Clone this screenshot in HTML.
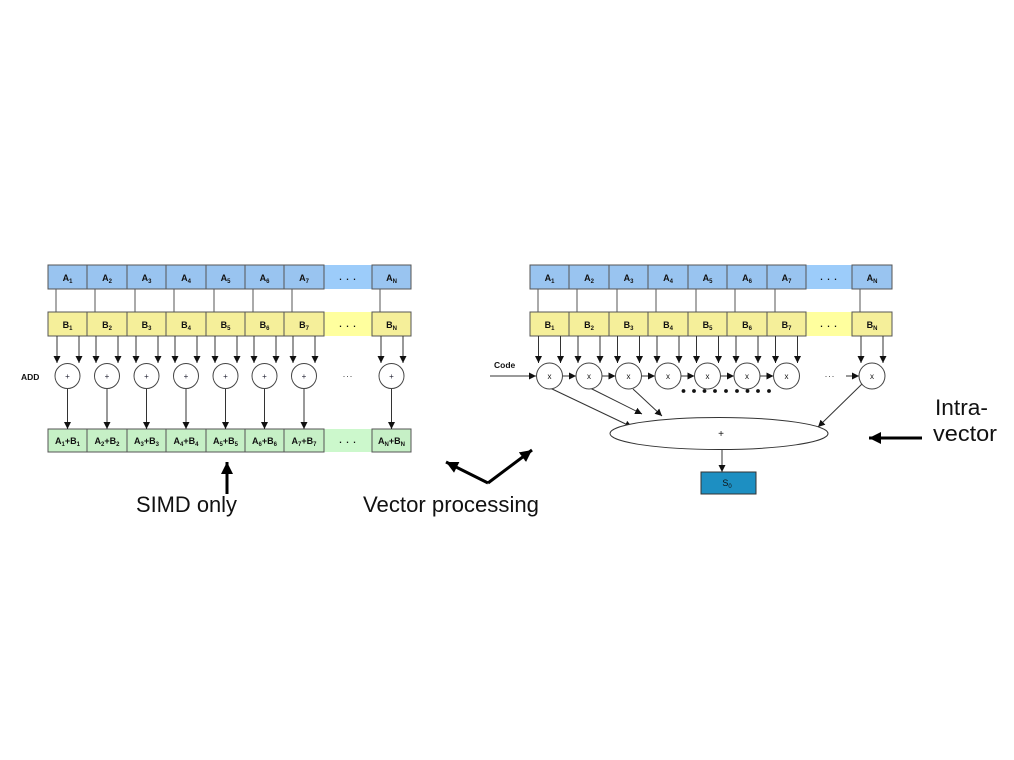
<!DOCTYPE html>
<html><head><meta charset="utf-8"><style>
html,body{margin:0;padding:0;background:#fff;}
svg{display:block;}
.c{font-family:"Liberation Sans",Arial,sans-serif;font-weight:bold;font-size:9px;fill:#111;}
.big{font-family:"Liberation Sans",Arial,sans-serif;font-size:22px;fill:#111;}
</style></head><body>
<svg width="1014" height="760" viewBox="0 0 1014 760" xmlns="http://www.w3.org/2000/svg">
<defs>
<marker id="a" markerUnits="userSpaceOnUse" markerWidth="8" markerHeight="8" refX="7" refY="3.5" orient="auto"><path d="M0,0 L7,3.5 L0,7 z" fill="#111"/></marker>
<marker id="b" markerUnits="userSpaceOnUse" markerWidth="14" markerHeight="14" refX="12" refY="6" orient="auto"><path d="M0,0 L12,6 L0,12 z" fill="#000"/></marker>
</defs>
<rect width="1014" height="760" fill="#fff"/>

<!-- ============ LEFT DIAGRAM ============ -->
<g stroke="#555" stroke-width="1">
<!-- A row -->
<rect x="324" y="265" width="48" height="24" fill="#9cccfa" stroke="none"/>
<rect x="48" y="265" width="39" height="24" fill="#99c4f0"/>
<rect x="87" y="265" width="40" height="24" fill="#99c4f0"/>
<rect x="127" y="265" width="39" height="24" fill="#99c4f0"/>
<rect x="166" y="265" width="40" height="24" fill="#99c4f0"/>
<rect x="206" y="265" width="39" height="24" fill="#99c4f0"/>
<rect x="245" y="265" width="39" height="24" fill="#99c4f0"/>
<rect x="284" y="265" width="40" height="24" fill="#99c4f0"/>
<rect x="372" y="265" width="39" height="24" fill="#99c4f0"/>
<!-- B row -->
<rect x="324" y="312" width="48" height="24" fill="#ffff9e" stroke="none"/>
<rect x="48" y="312" width="39" height="24" fill="#f5ef9a"/>
<rect x="87" y="312" width="40" height="24" fill="#f5ef9a"/>
<rect x="127" y="312" width="39" height="24" fill="#f5ef9a"/>
<rect x="166" y="312" width="40" height="24" fill="#f5ef9a"/>
<rect x="206" y="312" width="39" height="24" fill="#f5ef9a"/>
<rect x="245" y="312" width="39" height="24" fill="#f5ef9a"/>
<rect x="284" y="312" width="40" height="24" fill="#f5ef9a"/>
<rect x="372" y="312" width="39" height="24" fill="#f5ef9a"/>
<!-- green row -->
<rect x="324" y="429" width="48" height="23" fill="#ccf8cc" stroke="none"/>
<rect x="48" y="429" width="39" height="23" fill="#c6f0c6"/>
<rect x="87" y="429" width="40" height="23" fill="#c6f0c6"/>
<rect x="127" y="429" width="39" height="23" fill="#c6f0c6"/>
<rect x="166" y="429" width="40" height="23" fill="#c6f0c6"/>
<rect x="206" y="429" width="39" height="23" fill="#c6f0c6"/>
<rect x="245" y="429" width="39" height="23" fill="#c6f0c6"/>
<rect x="284" y="429" width="40" height="23" fill="#c6f0c6"/>
<rect x="372" y="429" width="39" height="23" fill="#c6f0c6"/>
<!-- A to B lines -->
<path d="M56,289V312 M95,289V312 M135,289V312 M174,289V312 M214,289V312 M253,289V312 M292,289V312 M380,289V312"/>
</g>
<!-- B to circle arrows -->
<g stroke="#333" stroke-width="1" marker-end="url(#a)">
<line x1="57" y1="336" x2="57" y2="363"/><line x1="79" y1="336" x2="79" y2="363"/>
<line x1="96" y1="336" x2="96" y2="363"/><line x1="118" y1="336" x2="118" y2="363"/>
<line x1="136" y1="336" x2="136" y2="363"/><line x1="158" y1="336" x2="158" y2="363"/>
<line x1="175" y1="336" x2="175" y2="363"/><line x1="197" y1="336" x2="197" y2="363"/>
<line x1="215" y1="336" x2="215" y2="363"/><line x1="237" y1="336" x2="237" y2="363"/>
<line x1="254" y1="336" x2="254" y2="363"/><line x1="276" y1="336" x2="276" y2="363"/>
<line x1="293" y1="336" x2="293" y2="363"/><line x1="315" y1="336" x2="315" y2="363"/>
<line x1="381" y1="336" x2="381" y2="363"/><line x1="403" y1="336" x2="403" y2="363"/>
<!-- circle to green -->
<line x1="67.5" y1="389" x2="67.5" y2="429"/>
<line x1="107" y1="389" x2="107" y2="429"/>
<line x1="146.5" y1="389" x2="146.5" y2="429"/>
<line x1="186" y1="389" x2="186" y2="429"/>
<line x1="225.5" y1="389" x2="225.5" y2="429"/>
<line x1="264.5" y1="389" x2="264.5" y2="429"/>
<line x1="304" y1="389" x2="304" y2="429"/>
<line x1="391.5" y1="389" x2="391.5" y2="429"/>
</g>
<g fill="#fff" stroke="#444" stroke-width="1">
<circle cx="67.5" cy="376" r="12.5"/><circle cx="107" cy="376" r="12.5"/><circle cx="146.5" cy="376" r="12.5"/>
<circle cx="186" cy="376" r="12.5"/><circle cx="225.5" cy="376" r="12.5"/><circle cx="264.5" cy="376" r="12.5"/>
<circle cx="304" cy="376" r="12.5"/><circle cx="391.5" cy="376" r="12.5"/>
</g>
<g class="c" text-anchor="middle" style="font-weight:normal;font-size:8px;fill:#223">
<text x="67.5" y="379">+</text><text x="107" y="379">+</text><text x="146.5" y="379">+</text><text x="186" y="379">+</text>
<text x="225.5" y="379">+</text><text x="264.5" y="379">+</text><text x="304" y="379">+</text><text x="391.5" y="379">+</text>
</g>
<text x="348" y="377" text-anchor="middle" style="font-family:'Liberation Sans',sans-serif;font-size:9px;fill:#444;letter-spacing:1px">...</text>
<text x="21" y="380" class="c" style="font-size:8.5px">ADD</text>
<!-- labels left -->
<g class="c" text-anchor="middle">
<text x="67.5" y="281">A<tspan font-size="6" dy="2">1</tspan></text>
<text x="107" y="281">A<tspan font-size="6" dy="2">2</tspan></text>
<text x="146.5" y="281">A<tspan font-size="6" dy="2">3</tspan></text>
<text x="186" y="281">A<tspan font-size="6" dy="2">4</tspan></text>
<text x="225.5" y="281">A<tspan font-size="6" dy="2">5</tspan></text>
<text x="264.5" y="281">A<tspan font-size="6" dy="2">6</tspan></text>
<text x="304" y="281">A<tspan font-size="6" dy="2">7</tspan></text>
<text x="348" y="280" style="letter-spacing:1px">. . .</text>
<text x="391.5" y="281">A<tspan font-size="6" dy="2">N</tspan></text>
<text x="67.5" y="328">B<tspan font-size="6" dy="2">1</tspan></text>
<text x="107" y="328">B<tspan font-size="6" dy="2">2</tspan></text>
<text x="146.5" y="328">B<tspan font-size="6" dy="2">3</tspan></text>
<text x="186" y="328">B<tspan font-size="6" dy="2">4</tspan></text>
<text x="225.5" y="328">B<tspan font-size="6" dy="2">5</tspan></text>
<text x="264.5" y="328">B<tspan font-size="6" dy="2">6</tspan></text>
<text x="304" y="328">B<tspan font-size="6" dy="2">7</tspan></text>
<text x="348" y="327" style="letter-spacing:1px">. . .</text>
<text x="391.5" y="328">B<tspan font-size="6" dy="2">N</tspan></text>
<text x="67.5" y="444">A<tspan font-size="6" dy="2">1</tspan><tspan dy="-2">+B</tspan><tspan font-size="6" dy="2">1</tspan></text>
<text x="107" y="444">A<tspan font-size="6" dy="2">2</tspan><tspan dy="-2">+B</tspan><tspan font-size="6" dy="2">2</tspan></text>
<text x="146.5" y="444">A<tspan font-size="6" dy="2">3</tspan><tspan dy="-2">+B</tspan><tspan font-size="6" dy="2">3</tspan></text>
<text x="186" y="444">A<tspan font-size="6" dy="2">4</tspan><tspan dy="-2">+B</tspan><tspan font-size="6" dy="2">4</tspan></text>
<text x="225.5" y="444">A<tspan font-size="6" dy="2">5</tspan><tspan dy="-2">+B</tspan><tspan font-size="6" dy="2">5</tspan></text>
<text x="264.5" y="444">A<tspan font-size="6" dy="2">6</tspan><tspan dy="-2">+B</tspan><tspan font-size="6" dy="2">6</tspan></text>
<text x="304" y="444">A<tspan font-size="6" dy="2">7</tspan><tspan dy="-2">+B</tspan><tspan font-size="6" dy="2">7</tspan></text>
<text x="348" y="443" style="letter-spacing:1px">. . .</text>
<text x="391.5" y="444">A<tspan font-size="6" dy="2">N</tspan><tspan dy="-2">+B</tspan><tspan font-size="6" dy="2">N</tspan></text>
</g>

<!-- ============ RIGHT DIAGRAM ============ -->
<g stroke="#555" stroke-width="1">
<rect x="806" y="265" width="46" height="24" fill="#9cccfa" stroke="none"/>
<rect x="530" y="265" width="39" height="24" fill="#99c4f0"/>
<rect x="569" y="265" width="40" height="24" fill="#99c4f0"/>
<rect x="609" y="265" width="39" height="24" fill="#99c4f0"/>
<rect x="648" y="265" width="40" height="24" fill="#99c4f0"/>
<rect x="688" y="265" width="39" height="24" fill="#99c4f0"/>
<rect x="727" y="265" width="40" height="24" fill="#99c4f0"/>
<rect x="767" y="265" width="39" height="24" fill="#99c4f0"/>
<rect x="852" y="265" width="40" height="24" fill="#99c4f0"/>
<rect x="806" y="312" width="46" height="24" fill="#ffff9e" stroke="none"/>
<rect x="530" y="312" width="39" height="24" fill="#f5ef9a"/>
<rect x="569" y="312" width="40" height="24" fill="#f5ef9a"/>
<rect x="609" y="312" width="39" height="24" fill="#f5ef9a"/>
<rect x="648" y="312" width="40" height="24" fill="#f5ef9a"/>
<rect x="688" y="312" width="39" height="24" fill="#f5ef9a"/>
<rect x="727" y="312" width="40" height="24" fill="#f5ef9a"/>
<rect x="767" y="312" width="39" height="24" fill="#f5ef9a"/>
<rect x="852" y="312" width="40" height="24" fill="#f5ef9a"/>
<path d="M538,289V312 M577,289V312 M617,289V312 M656,289V312 M696,289V312 M735,289V312 M775,289V312 M860,289V312"/>
</g>
<g stroke="#333" stroke-width="1" marker-end="url(#a)">
<line x1="538.5" y1="336" x2="538.5" y2="363"/><line x1="560.5" y1="336" x2="560.5" y2="363"/>
<line x1="578" y1="336" x2="578" y2="363"/><line x1="600" y1="336" x2="600" y2="363"/>
<line x1="617.5" y1="336" x2="617.5" y2="363"/><line x1="639.5" y1="336" x2="639.5" y2="363"/>
<line x1="657" y1="336" x2="657" y2="363"/><line x1="679" y1="336" x2="679" y2="363"/>
<line x1="696.5" y1="336" x2="696.5" y2="363"/><line x1="718.5" y1="336" x2="718.5" y2="363"/>
<line x1="736" y1="336" x2="736" y2="363"/><line x1="758" y1="336" x2="758" y2="363"/>
<line x1="775.5" y1="336" x2="775.5" y2="363"/><line x1="797.5" y1="336" x2="797.5" y2="363"/>
<line x1="861" y1="336" x2="861" y2="363"/><line x1="883" y1="336" x2="883" y2="363"/>
<!-- code and chain -->
<line x1="490" y1="376" x2="536" y2="376"/>
<line x1="562" y1="376" x2="576" y2="376"/>
<line x1="601.5" y1="376" x2="615.5" y2="376"/>
<line x1="641" y1="376" x2="655" y2="376"/>
<line x1="680.5" y1="376" x2="694.5" y2="376"/>
<line x1="720" y1="376" x2="734" y2="376"/>
<line x1="759.5" y1="376" x2="773.5" y2="376"/>
<line x1="846" y1="376" x2="859" y2="376"/>
<!-- to ellipse -->
<line x1="550" y1="388" x2="632" y2="427"/>
<line x1="590" y1="388" x2="642" y2="414"/>
<line x1="633" y1="389" x2="662" y2="416"/>
<line x1="862" y1="384" x2="818" y2="427"/>
<line x1="722" y1="450" x2="722" y2="472"/>
</g>
<g fill="#fff" stroke="#444" stroke-width="1">
<circle cx="549.5" cy="376" r="13"/><circle cx="589" cy="376" r="13"/><circle cx="628.5" cy="376" r="13"/>
<circle cx="668" cy="376" r="13"/><circle cx="707.5" cy="376" r="13"/><circle cx="747" cy="376" r="13"/>
<circle cx="786.5" cy="376" r="13"/><circle cx="872" cy="376" r="13"/>
</g>
<g text-anchor="middle" style="font-family:'Liberation Sans',sans-serif;font-size:8px;fill:#111">
<text x="549.5" y="379">x</text><text x="589" y="379">x</text><text x="628.5" y="379">x</text><text x="668" y="379">x</text>
<text x="707.5" y="379">x</text><text x="747" y="379">x</text><text x="786.5" y="379">x</text><text x="872" y="379">x</text>
</g>
<text x="830" y="377" text-anchor="middle" style="font-family:'Liberation Sans',sans-serif;font-size:9px;fill:#444;letter-spacing:1px">...</text>
<g fill="#111">
<circle cx="683.5" cy="391" r="1.9"/><circle cx="694" cy="391" r="1.9"/><circle cx="704.5" cy="391" r="1.9"/>
<circle cx="715" cy="391" r="1.9"/><circle cx="726" cy="391" r="1.9"/><circle cx="737" cy="391" r="1.9"/>
<circle cx="747.5" cy="391" r="1.9"/><circle cx="758" cy="391" r="1.9"/><circle cx="769" cy="391" r="1.9"/>
</g>
<text x="494" y="368" class="c" style="font-size:8.5px">Code</text>
<ellipse cx="719" cy="433.5" rx="109" ry="16" fill="#fff" stroke="#333" stroke-width="1"/>
<text x="721" y="437" text-anchor="middle" style="font-family:'Liberation Sans',sans-serif;font-size:10px;fill:#111">+</text>
<rect x="701" y="472" width="55" height="22" fill="#1d8fc2" stroke="#333" stroke-width="1"/>
<text x="727" y="486" text-anchor="middle" style="font-family:'Liberation Sans',sans-serif;font-size:9px;fill:#111">S<tspan font-size="6" dy="2">0</tspan></text>
<g class="c" text-anchor="middle">
<text x="549.5" y="281">A<tspan font-size="6" dy="2">1</tspan></text>
<text x="589" y="281">A<tspan font-size="6" dy="2">2</tspan></text>
<text x="628.5" y="281">A<tspan font-size="6" dy="2">3</tspan></text>
<text x="668" y="281">A<tspan font-size="6" dy="2">4</tspan></text>
<text x="707.5" y="281">A<tspan font-size="6" dy="2">5</tspan></text>
<text x="747" y="281">A<tspan font-size="6" dy="2">6</tspan></text>
<text x="786.5" y="281">A<tspan font-size="6" dy="2">7</tspan></text>
<text x="829" y="280" style="letter-spacing:1px">. . .</text>
<text x="872" y="281">A<tspan font-size="6" dy="2">N</tspan></text>
<text x="549.5" y="328">B<tspan font-size="6" dy="2">1</tspan></text>
<text x="589" y="328">B<tspan font-size="6" dy="2">2</tspan></text>
<text x="628.5" y="328">B<tspan font-size="6" dy="2">3</tspan></text>
<text x="668" y="328">B<tspan font-size="6" dy="2">4</tspan></text>
<text x="707.5" y="328">B<tspan font-size="6" dy="2">5</tspan></text>
<text x="747" y="328">B<tspan font-size="6" dy="2">6</tspan></text>
<text x="786.5" y="328">B<tspan font-size="6" dy="2">7</tspan></text>
<text x="829" y="327" style="letter-spacing:1px">. . .</text>
<text x="872" y="328">B<tspan font-size="6" dy="2">N</tspan></text>
</g>

<!-- ============ BIG LABELS / ARROWS ============ -->
<g stroke="#000" stroke-width="3" fill="none" marker-end="url(#b)">
<line x1="227" y1="494" x2="227" y2="462"/>
<line x1="488" y1="483" x2="446" y2="462"/>
<line x1="488" y1="483" x2="532" y2="450"/>
<line x1="922" y1="438" x2="869" y2="438"/>
</g>
<text x="136" y="512" class="big" textLength="101" lengthAdjust="spacingAndGlyphs">SIMD only</text>
<text x="363" y="512" class="big" textLength="176" lengthAdjust="spacingAndGlyphs">Vector processing</text>
<text x="935" y="415" class="big" textLength="53" lengthAdjust="spacingAndGlyphs">Intra-</text>
<text x="933" y="441" class="big" textLength="64" lengthAdjust="spacingAndGlyphs">vector</text>
</svg>
</body></html>
